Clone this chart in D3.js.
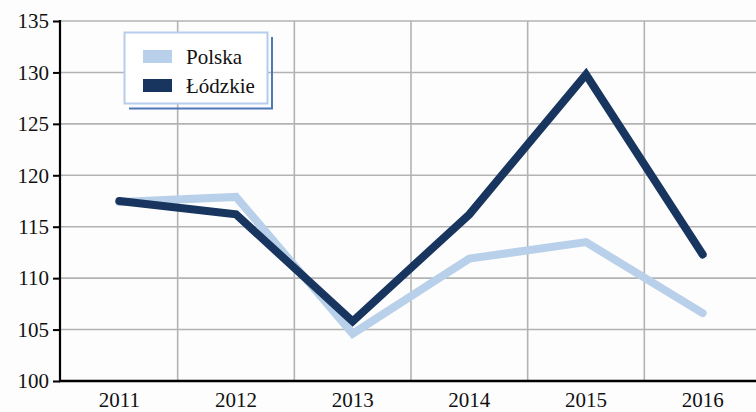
<!DOCTYPE html>
<html>
<head>
<meta charset="utf-8">
<script src="https://cdn.jsdelivr.net/npm/d3@7"></script>
<style>
  html, body { margin: 0; padding: 0; background: #fdfdfd; }
  svg { display: block; }
</style>
</head>
<body>
<svg id="chart" width="756" height="412"></svg>
<script>
// Dynamika (rok poprzedni = 100)
const years = ["2011", "2012", "2013", "2014", "2015", "2016"];
const polska = [117.4, 117.9, 104.6, 111.9, 113.5, 106.6];
const lodzkie = [117.5, 116.2, 105.8, 116.2, 129.8, 112.3];
const yTicks = [100, 105, 110, 115, 120, 125, 130, 135];
const seriesNames = ["Polska", "Łódzkie"];
const seriesColors = ["#b9d0ea", "#17355f"];

(function () {
  const svg = d3.select("#chart");
  const font = "'Liberation Serif', 'Times New Roman', serif";
  const fs = 21;

  const pl = 61, pr = 761, pt = 21, pb = 381;

  const x = d3.scaleBand().domain(years).range([pl, pr]).padding(0);
  const y = d3.scaleLinear().domain([100, 135]).range([pb, pt]);

  // siatka pozioma
  svg.append("g")
    .selectAll("line")
    .data(yTicks.slice(1))
    .join("line")
    .attr("x1", pl).attr("x2", 756)
    .attr("y1", d => y(d)).attr("y2", d => y(d))
    .attr("stroke", "#b3b3b3").attr("stroke-width", 1.6);

  // siatka pionowa (granice kategorii)
  const bounds = years.slice(1).map(d => x(d));
  svg.append("g")
    .selectAll("line")
    .data(bounds)
    .join("line")
    .attr("x1", d => d).attr("x2", d => d)
    .attr("y1", pt).attr("y2", pb)
    .attr("stroke", "#b3b3b3").attr("stroke-width", 1.6);

  // oś Y
  const yAxis = svg.append("g")
    .attr("transform", `translate(${pl - 1},0)`)
    .call(d3.axisLeft(y).tickValues(yTicks).tickSize(7).tickPadding(4).tickFormat(d3.format("d")));
  yAxis.select(".domain").attr("stroke", "#000").attr("stroke-width", 2.2).attr("d", `M0,${pt - 1}V${pb}`);
  yAxis.selectAll(".tick line").attr("stroke", "#000").attr("stroke-width", 2);
  yAxis.selectAll("text")
    .attr("font-family", font).attr("font-size", fs).attr("fill", "#111");

  // oś X
  const xAxis = svg.append("g")
    .attr("transform", `translate(0,${pb})`)
    .call(d3.axisBottom(x).tickSize(0).tickPadding(11));
  xAxis.select(".domain").attr("stroke", "#000").attr("stroke-width", 2.6).attr("d", `M${pl - 2},0H756`);
  xAxis.selectAll("text")
    .attr("font-family", font).attr("font-size", fs).attr("fill", "#111");

  // linie serii
  const line = d3.line()
    .x((d, i) => x(years[i]) + x.bandwidth() / 2)
    .y(d => y(d));

  [polska, lodzkie].forEach((vals, i) => {
    svg.append("path")
      .datum(vals)
      .attr("d", line)
      .attr("fill", "none")
      .attr("stroke", seriesColors[i])
      .attr("stroke-width", 8)
      .attr("stroke-linejoin", "miter")
      .attr("stroke-linecap", "round");
  });

  // legenda
  const lg = svg.append("g");
  lg.append("path")
    .attr("d", "M129,108.5H272V37")
    .attr("fill", "none").attr("stroke", "#4f78b8").attr("stroke-width", 2);
  lg.append("rect")
    .attr("x", 124.5).attr("y", 32.5).attr("width", 143).attr("height", 71)
    .attr("fill", "#fff").attr("stroke", "#b5cdea").attr("stroke-width", 2);

  seriesNames.forEach((name, i) => {
    const yy = 50 + i * 29;
    lg.append("rect")
      .attr("x", 143).attr("y", yy).attr("width", 29).attr("height", 13)
      .attr("fill", seriesColors[i]);
    lg.append("text")
      .attr("x", 186).attr("y", yy + 14)
      .attr("font-family", font).attr("font-size", fs).attr("fill", "#111")
      .text(name);
  });
})();
</script>
</body>
</html>
